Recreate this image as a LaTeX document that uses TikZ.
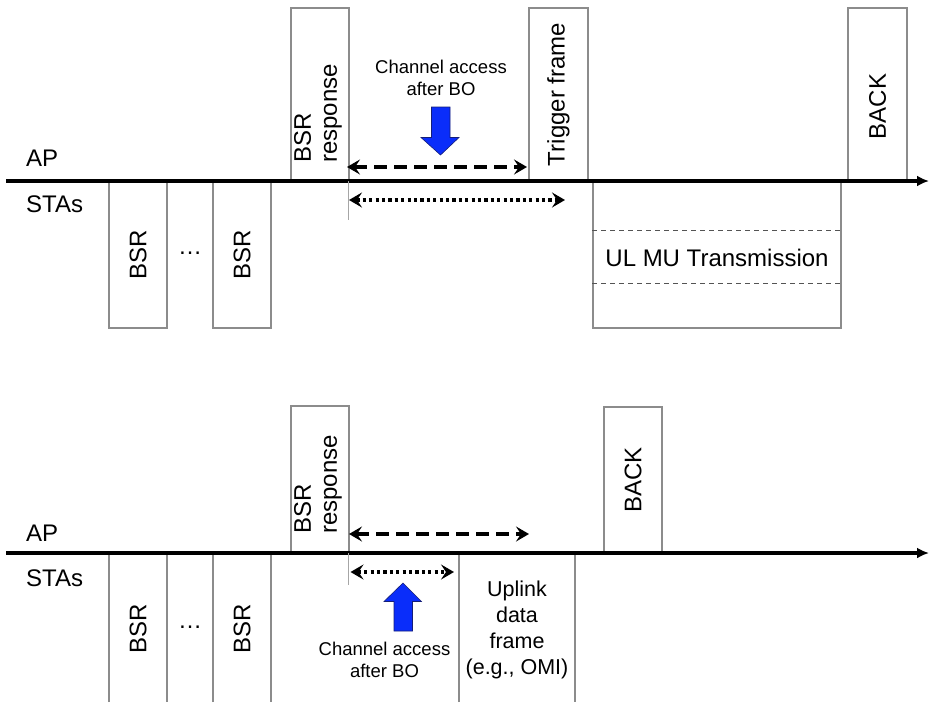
\documentclass[tikz,border=0pt]{standalone}
\usepackage{fontspec}
\setmainfont{Liberation Sans}
\usetikzlibrary{arrows.meta}
\definecolor{boxgray}{RGB}{140,140,140}
\definecolor{arrblue}{RGB}{10,45,250}
\definecolor{arredge}{RGB}{20,30,120}
\newcommand{\bigtxt}{\fontsize{24}{26}\selectfont}
\begin{document}
\begin{tikzpicture}[x=1pt,y=-1pt,
  frame/.style={draw=boxgray,line width=1.6pt,inner sep=0pt},
  lbl/.style={font=\bigtxt,inner sep=0pt},
  small/.style={font=\fontsize{18.5}{22}\selectfont,inner sep=0pt,align=center},
  axis/.style={line width=3.4pt,-{Latex[length=12pt,width=11pt]}},
  tip/.style={Stealth[length=13pt,width=15pt,inset=5pt]},
  dasharr/.style={line width=3.2pt,dash pattern=on 13pt off 7pt,{Stealth[length=13pt,width=15pt,inset=5pt]}-{Stealth[length=13pt,width=15pt,inset=5pt]}},
  dotarr/.style={line width=3.2pt,dash pattern=on 3.2pt off 3.2pt,{Stealth[length=13pt,width=15pt,inset=5pt]}-{Stealth[length=13pt,width=15pt,inset=5pt]}},
  guide/.style={draw=gray!70,line width=0.8pt},
  bluearr/.style={fill=arrblue,draw=arredge,line width=0.6pt}]
\useasboundingbox (0,0) rectangle (929,702);

% ================= TOP PANEL =================
\coordinate (ta0) at (6,181);
\coordinate (ta1) at (929,181);
\node[lbl,anchor=west] (tAP) at (26,158) {AP};
\node[lbl,anchor=west] (tSTA) at (26,204) {STAs};

% boxes
\node[frame,minimum width=58pt,minimum height=147pt] (tbsr1) at (138,254.5) {\rotatebox{90}{\bigtxt BSR}};
\node[lbl] (tdots) at (190,253) {\dots};
\node[frame,minimum width=58pt,minimum height=147pt] (tbsr2) at (242,254.5) {\rotatebox{90}{\bigtxt BSR}};
\node[frame,minimum width=58pt,minimum height=173pt] (tresp) at (320,94.5) {};
\node[lbl,rotate=90,anchor=west,align=left] (tresptxt) at (318,163) {BSR\\response};
\node[frame,minimum width=59pt,minimum height=173pt] (ttrig) at (558.5,94.5) {\rotatebox{90}{\bigtxt Trigger frame}};
\node[frame,minimum width=59pt,minimum height=173pt] (tback) at (877.5,94.5) {};
\node[lbl,rotate=90] (tbacktxt) at (877.5,106.5) {BACK};
\node[frame,minimum width=248pt,minimum height=147pt] (tul) at (717,254.5) {};
\node[lbl] (tultxt) at (717,258) {UL MU Transmission};
\draw[boxgray!60!black,line width=1pt,dash pattern=on 5pt off 4pt] (tul.west |- 0,230) -- (tul.east |- 0,230);
\draw[boxgray!60!black,line width=1pt,dash pattern=on 5pt off 4pt] (tul.west |- 0,283) -- (tul.east |- 0,283);

\draw[axis] (ta0) -- (ta1);

% guide + arrows
\coordinate (tg0) at (348,181);
\coordinate (tg1) at (348,220);
\draw[guide] (tg0) -- (tg1);
\coordinate (tdA) at (347,167);
\coordinate (tdB) at (527,167);
\draw[dasharr] (tdA) -- (tdB);
\coordinate (ttA) at (349,200);
\coordinate (ttB) at (565,200);
\draw[dotarr] (ttA) -- (ttB);

\node[small] (tchan) at (441,78) {Channel access\\after BO};
\draw[bluearr] (431.5,107) -- (450,107) -- (450,137.5) -- (459,137.5) -- (440.5,155) -- (421,137.5) -- (431.5,137.5) -- cycle;

% ================= BOTTOM PANEL =================
\coordinate (ba0) at (6,553);
\coordinate (ba1) at (929,553);
\node[lbl,anchor=west] (bAP) at (26,533) {AP};
\node[lbl,anchor=west] (bSTA) at (26,578) {STAs};

\draw[frame] (109,702) |- (167,553) -- (167,702);
\draw[frame] (213,702) |- (271,553) -- (271,702);
\node[lbl,rotate=90] (bbsr1) at (138,628.5) {BSR};
\node[lbl,rotate=90] (bbsr2) at (242,628.5) {BSR};
\node[lbl] (bdots) at (190,627) {\dots};
\node[frame,minimum width=58pt,minimum height=147pt] (bresp) at (320,479.5) {};
\node[lbl,rotate=90,anchor=west,align=left] (bresptxt) at (318,534) {BSR\\response};
\node[frame,minimum width=58pt,minimum height=146pt] (bback) at (633,480) {\rotatebox{90}{\bigtxt BACK}};
\draw[frame] (459,702) |- (575,553) -- (575,702);
\node[font=\fontsize{21.5}{26}\selectfont,inner sep=0pt,align=center] (bupl) at (517,629.5) {Uplink\\data\\frame\\(e.g., OMI)};

\draw[axis] (ba0) -- (ba1);

\coordinate (bg0) at (348.5,553);
\coordinate (bg1) at (348.5,585);
\draw[guide] (bg0) -- (bg1);
\coordinate (bdA) at (349,534);
\coordinate (bdB) at (529,534);
\draw[dasharr] (bdA) -- (bdB);
\coordinate (btA) at (350.5,572);
\coordinate (btB) at (454,572);
\draw[dotarr] (btA) -- (btB);

\draw[bluearr] (394,631) -- (412.5,631) -- (412.5,601.5) -- (421.5,601.5) -- (403,583) -- (384,601.5) -- (394,601.5) -- cycle;
\node[small] (bchan) at (384.5,660) {Channel access\\after BO};
\end{tikzpicture}
\end{document}
